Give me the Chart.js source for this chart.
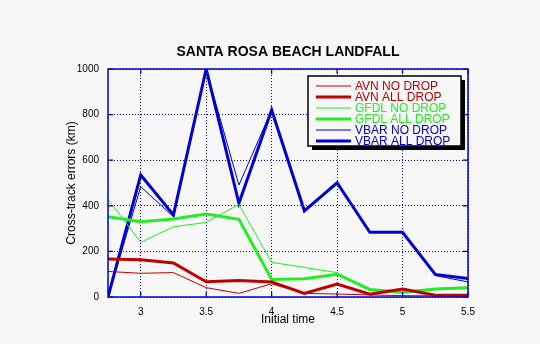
<!DOCTYPE html>
<html>
<head>
<meta charset="utf-8">
<script src="https://cdn.jsdelivr.net/npm/chart.js@4"></script>
<style>
html,body{margin:0;padding:0;background:#f7f7f7;}
#wrap{width:540px;height:344px;}
</style>
</head>
<body>
<div id="wrap"><canvas id="c" width="540" height="344"></canvas></div>
<script>
const initialTimes = [2.75, 3, 3.25, 3.5, 3.75, 4, 4.25, 4.5, 4.75, 5, 5.25, 5.5];
const avnNoDrop   = [112, 104, 107, 41, 16, 58, 16, 13, 9, 6, 5, 5];
const avnAllDrop  = [167, 163, 149, 67, 72, 66, 16, 57, 12, 35, 8, 8];
const gfdlNoDrop  = [428, 240, 308, 327, 406, 152, 130, 107, 30, 18, 34, 41];
const gfdlAllDrop = [352, 330, 342, 364, 341, 77, 80, 100, 33, 21, 35, 41];
const vbarNoDrop  = [0, 484, 352, 998, 491, 820, 377, 501, 284, 288, 94, 66];
const vbarAllDrop = [0, 535, 360, 1000, 411, 820, 378, 501, 284, 284, 99, 81];
const xTickValues = [3, 3.5, 4, 4.5, 5, 5.5];
const yTickValues = [0, 200, 400, 600, 800, 1000];
const seriesNames = ['AVN NO DROP', 'AVN ALL DROP', 'GFDL NO DROP', 'GFDL ALL DROP', 'VBAR NO DROP', 'VBAR ALL DROP'];

const RED = '#c00000', GREEN = '#22ee22', BLUE = '#0000d0', AXIS = '#0000cc';
const SANS = '"Liberation Sans", Arial, sans-serif';

function pts(arr){ return initialTimes.map((x,i)=>({x:x, y:arr[i]})); }
const seriesData = [avnNoDrop, avnAllDrop, gfdlNoDrop, gfdlAllDrop, vbarNoDrop, vbarAllDrop];
const seriesColors = [RED, RED, GREEN, GREEN, BLUE, BLUE];
const seriesWidths = [1, 3, 1, 3, 1, 3];

const datasets = seriesNames.map((n,i)=>({
  label: n,
  data: pts(seriesData[i]),
  borderColor: seriesColors[i],
  backgroundColor: seriesColors[i],
  borderWidth: seriesWidths[i],
  pointRadius: 0,
  tension: 0,
  fill: false
}));

const framePlugin = {
  id: 'frame',
  beforeDraw(chart){
    const ctx = chart.ctx;
    ctx.save();
    ctx.fillStyle = '#f7f7f7';
    ctx.fillRect(0,0,chart.width,chart.height);
    ctx.restore();
  },
  afterDatasetsDraw(chart){
    const {ctx, chartArea:a, scales} = chart;
    ctx.save();
    ctx.strokeStyle = AXIS;
    ctx.lineWidth = 1.5;
    ctx.strokeRect(a.left, a.top, a.right-a.left, a.bottom-a.top);
    ctx.lineWidth = 1.2;
    const L = 5;
    scales.x.ticks.forEach(t=>{
      const px = scales.x.getPixelForValue(t.value);
      ctx.beginPath();
      ctx.moveTo(px, a.bottom); ctx.lineTo(px, a.bottom-L);
      ctx.moveTo(px, a.top); ctx.lineTo(px, a.top+L);
      ctx.stroke();
    });
    scales.y.ticks.forEach(t=>{
      const py = scales.y.getPixelForValue(t.value);
      ctx.beginPath();
      ctx.moveTo(a.left, py); ctx.lineTo(a.left+L, py);
      ctx.moveTo(a.right, py); ctx.lineTo(a.right-L, py);
      ctx.stroke();
    });
    // legend box
    const bx = a.right - 160, by = a.top + 7, bw = 153, bh = 70;
    ctx.fillStyle = '#000';
    ctx.fillRect(bx+4, by+4, bw, bh);
    ctx.fillStyle = '#f7f7f7';
    ctx.fillRect(bx, by, bw, bh);
    ctx.strokeStyle = '#000';
    ctx.lineWidth = 1.5;
    ctx.strokeRect(bx, by, bw, bh);
    ctx.font = '12px ' + SANS;
    ctx.textBaseline = 'middle';
    ctx.textAlign = 'left';
    chart.data.datasets.forEach((ds,i)=>{
      const yy = by + 10 + i*11;
      ctx.strokeStyle = ds.borderColor;
      ctx.lineWidth = ds.borderWidth;
      ctx.beginPath();
      ctx.moveTo(bx+8, yy); ctx.lineTo(bx+43, yy);
      ctx.stroke();
      ctx.fillStyle = ds.borderColor;
      ctx.fillText(ds.label, bx+47, yy+0.5);
    });
    ctx.restore();
  }
};

new Chart(document.getElementById('c'), {
  type: 'line',
  data: { datasets },
  plugins: [framePlugin],
  options: {
    responsive: false,
    animation: false,
    layout: { padding: { left: 0, right: 72, top: 0, bottom: 0 } },
    plugins: {
      legend: { display: false },
      tooltip: { enabled: false },
      title: {
        display: true,
        text: 'SANTA ROSA BEACH LANDFALL',
        fullSize: false,
        color: '#000',
        font: { family: SANS, size: 14, weight: 'bold', lineHeight: 1.2 },
        padding: { top: 44, bottom: 8.2 }
      }
    },
    scales: {
      x: {
        type: 'linear',
        min: 2.75, max: 5.5,
        afterBuildTicks(scale){ scale.ticks = xTickValues.map(v=>({value:v})); },
        afterFit(scale){ scale.height = 47; },
        grid: { color: AXIS, lineWidth: 1, drawTicks: false, borderDash: [1,2] },
        border: { display: false, dash: [1,2] },
        ticks: { color: '#000', padding: 9, maxRotation: 0, autoSkip: false,
                 font: { family: SANS, size: 10 },
                 callback: v => String(v) },
        title: { display: true, text: 'Initial time', color: '#000',
                 font: { family: SANS, size: 12, lineHeight: 1.2 },
                 padding: { top: 0, bottom: 16.8 } }
      },
      y: {
        min: 0, max: 1000,
        afterBuildTicks(scale){ scale.ticks = yTickValues.map(v=>({value:v})); },
        afterFit(scale){ scale.width = 108; },
        grid: { color: AXIS, lineWidth: 1, drawTicks: false, borderDash: [1,2] },
        border: { display: false, dash: [1,2] },
        ticks: { color: '#000', padding: 9, font: { family: SANS, size: 10 },
                 callback: v => String(v) },
        title: { display: true, text: 'Cross-track errors (km)', color: '#000',
                 font: { family: SANS, size: 12, lineHeight: 1.2 },
                 padding: { top: 64.8, bottom: 0 } }
      }
    }
  }
});
</script>
</body>
</html>
